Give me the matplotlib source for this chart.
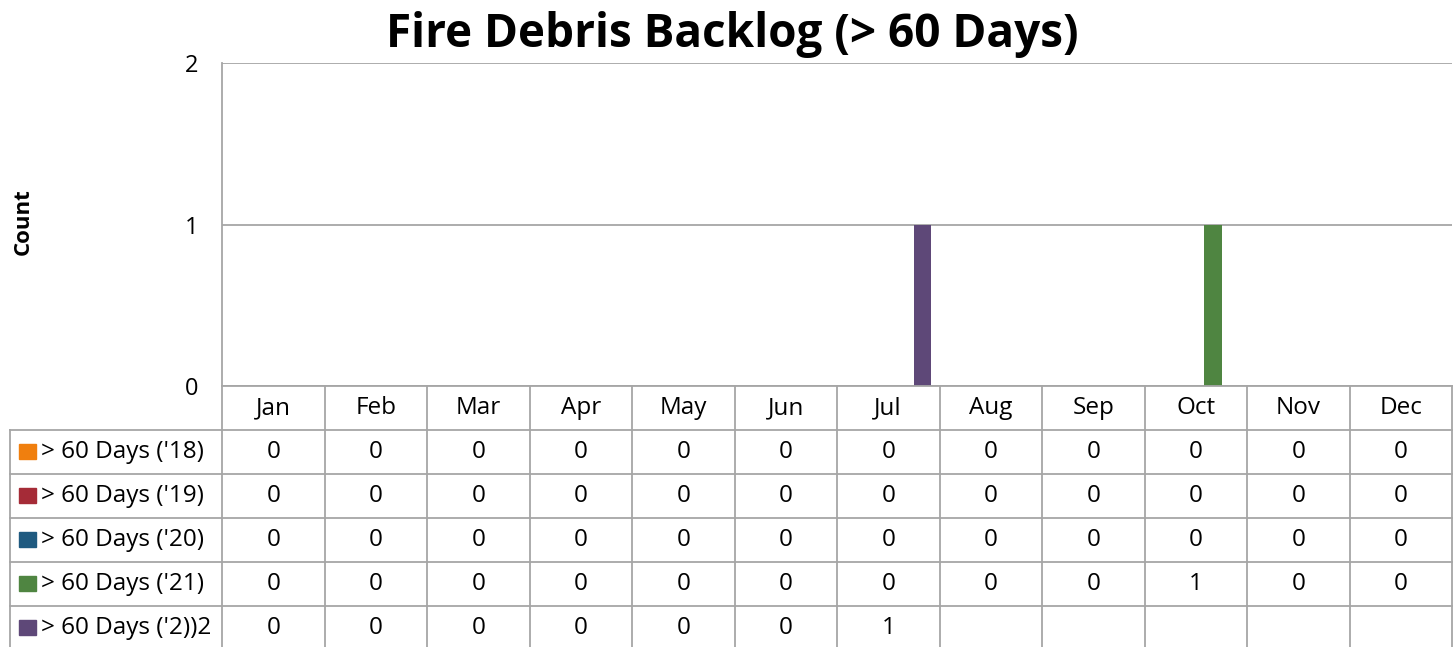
import matplotlib
matplotlib.use("Agg")
import matplotlib.pyplot as plt
from matplotlib.patches import Rectangle

plt.rcParams['font.family'] = ['Open Sans', 'DejaVu Sans']

months = ["Jan", "Feb", "Mar", "Apr", "May", "Jun", "Jul", "Aug", "Sep", "Oct", "Nov", "Dec"]
series_names = ["> 60 Days ('18)", "> 60 Days ('19)", "> 60 Days ('20)", "> 60 Days ('21)", "> 60 Days ('2))2"]
v18 = [0, 0, 0, 0, 0, 0, 0, 0, 0, 0, 0, 0]
v19 = [0, 0, 0, 0, 0, 0, 0, 0, 0, 0, 0, 0]
v20 = [0, 0, 0, 0, 0, 0, 0, 0, 0, 0, 0, 0]
v21 = [0, 0, 0, 0, 0, 0, 0, 0, 0, 1, 0, 0]
v22 = [0, 0, 0, 0, 0, 0, 1, None, None, None, None, None]
series_values = [v18, v19, v20, v21, v22]
colors = ["#F07F0E", "#A52B37", "#1F5A80", "#4F8541", "#5E4878"]
yticks = [0, 1, 2]

W, H = 1453, 647
fig = plt.figure(figsize=(W / 100, H / 100), dpi=100)

L, R = 222, 1452
TOP, BOT = 63, 386
FS = 17.5
ax = fig.add_axes([L / W, 1 - BOT / H, (R - L) / W, (BOT - TOP) / H])
ax.set_xlim(0, 12)
ax.set_ylim(0, 2)
bw = 0.168
for i, (vals, c) in enumerate(zip(series_values, colors)):
    xs = [m + 0.5 + (i - 2) * bw for m in range(12)]
    hs = [v if v is not None else 0 for v in vals]
    ax.bar(xs, hs, width=bw, color=c, linewidth=0, zorder=3)
ax.set_yticks(yticks)
ax.set_yticklabels([str(t) for t in yticks], fontsize=17)
ax.tick_params(axis='y', length=0, pad=17)
ax.set_xticks([])
ax.yaxis.grid(True, color="#a6a6a6", linewidth=1.3, zorder=0)
for s in ['top', 'right', 'bottom']:
    ax.spines[s].set_visible(False)
ax.spines['left'].set_color("#a6a6a6")
ax.spines['left'].set_linewidth(1.3)

fig.text(23 / W, 1 - 222 / H, "Count", rotation=90, ha='center', va='center',
         fontsize=16, fontweight='bold')
fig.text(732 / W, 1 - 35 / H, "Fire Debris Backlog (> 60 Days)", ha='center', va='center',
         fontsize=33, fontweight='bold')

# data table axes (y in pixel rows from top of table)
tax = fig.add_axes([L / W, 0, (R - L) / W, (H - BOT) / H])
tax.set_xlim(0, 12)
tax.set_ylim(H - BOT, 0)
tax.axis('off')
rh = 44
lc = "#a6a6a6"
lw = 1.3
unit = (R - L) / 12.0
xleft = (10 - L) / unit
# header row
for m, name in enumerate(months):
    tax.text(m + 0.5, rh / 2, name, ha='center', va='center', fontsize=FS)
for m in range(13):
    tax.plot([m, m], [0, rh * 6], color=lc, linewidth=lw, clip_on=False)
tax.plot([0, 12], [0, 0], color=lc, linewidth=lw, clip_on=False)
tax.plot([xleft, xleft], [rh, rh * 6], color=lc, linewidth=lw, clip_on=False)
for r in range(1, 7):
    tax.plot([xleft, 12], [rh * r, rh * r], color=lc, linewidth=lw, clip_on=False)
sw = 17 / unit
for r, (name, vals, c) in enumerate(zip(series_names, series_values, colors)):
    yc = rh * (r + 1) + rh / 2
    tax.add_patch(Rectangle(((19 - L) / unit, yc - 8), sw, 15, color=c, clip_on=False))
    tax.text((41 - L) / unit, yc, name, ha='left', va='center', fontsize=FS, clip_on=False)
    for m, v in enumerate(vals):
        if v is not None:
            tax.text(m + 0.5, yc, str(v), ha='center', va='center', fontsize=FS)

fig.savefig("out.png", dpi=100)
